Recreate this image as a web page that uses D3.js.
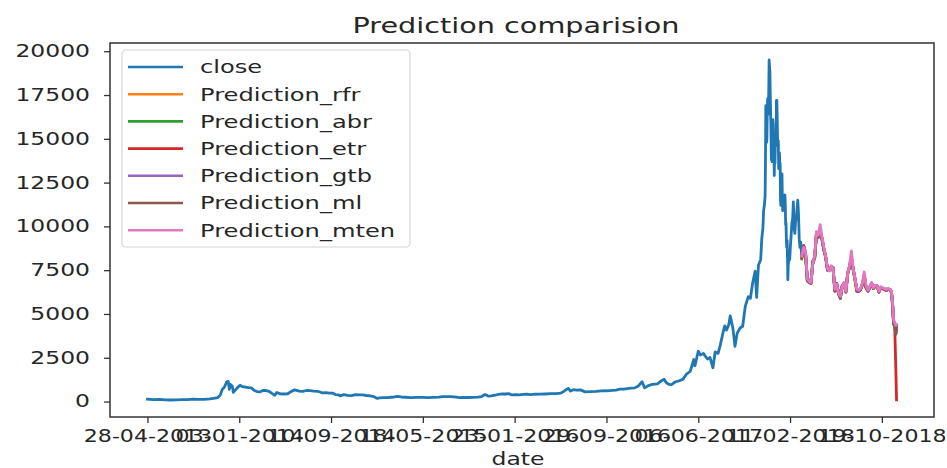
<!DOCTYPE html>
<html><head><meta charset="utf-8">
<script src="https://cdn.jsdelivr.net/npm/d3@7"></script>
<style>
html,body{margin:0;padding:0;background:#fff;}
svg{display:block;font-family:"DejaVu Sans",sans-serif;}
</style></head>
<body><svg id="chart" width="947" height="468"></svg>
<script>
// ---------------- data ----------------
const chartTitle = "Prediction comparision";
const xAxisLabel = "date";
const startDate = "2013-04-28";
const xTickIndex = [0, 250, 500, 750, 1000, 1250, 1500, 1750, 2000];
const xTickLabels = ["28-04-2013","03-01-2014","10-09-2014","18-05-2015","23-01-2016","29-09-2016","06-06-2017","11-02-2018","19-10-2018"];
const yTickValues = [0, 2500, 5000, 7500, 10000, 12500, 15000, 17500, 20000];
const seriesNames = ["close","Prediction_rfr","Prediction_abr","Prediction_etr","Prediction_gtb","Prediction_ml","Prediction_mten"];
const seriesColors = ["#1f77b4","#ff7f0e","#2ca02c","#d62728","#9467bd","#8c564b","#e377c2"];

// close price, training period [date, value]
const closeTrain = [
 ["2013-04-28",135],["2013-05-15",115],["2013-06-01",129],["2013-06-15",100],["2013-07-01",88],["2013-07-15",98],
 ["2013-08-01",105],["2013-08-15",110],["2013-09-01",140],["2013-09-15",128],["2013-10-01",125],["2013-10-15",150],
 ["2013-10-25",185],["2013-11-05",225],["2013-11-12",355],["2013-11-18",700],["2013-11-23",800],["2013-11-30",1130],
 ["2013-12-04",1150],["2013-12-07",700],["2013-12-10",980],["2013-12-15",870],["2013-12-18",520],["2013-12-22",620],
 ["2013-12-27",740],
 ["2014-01-05",930],["2014-01-12",850],["2014-01-20",830],["2014-01-28",800],["2014-02-05",780],["2014-02-12",650],
 ["2014-02-20",570],["2014-02-28",550],["2014-03-08",630],["2014-03-15",635],["2014-03-25",585],["2014-04-01",480],
 ["2014-04-10",360],["2014-04-15",520],["2014-04-25",440],["2014-05-05",430],["2014-05-15",445],["2014-05-25",580],
 ["2014-06-03",665],["2014-06-15",590],["2014-06-25",580],["2014-07-05",630],["2014-07-15",620],["2014-07-25",600],
 ["2014-08-05",585],["2014-08-18",490],["2014-08-28",510],["2014-09-05",480],["2014-09-15",475],["2014-09-22",400],
 ["2014-10-01",385],["2014-10-05",320],["2014-10-15",395],["2014-10-25",355],["2014-11-05",340],["2014-11-15",395],
 ["2014-11-25",375],["2014-12-05",375],["2014-12-15",345],["2014-12-25",320],
 ["2015-01-05",275],["2015-01-14",180],["2015-01-20",212],["2015-01-30",225],["2015-02-10",220],["2015-02-20",245],
 ["2015-03-01",260],["2015-03-10",290],["2015-03-20",260],["2015-04-01",245],["2015-04-15",220],["2015-05-01",235],
 ["2015-05-15",238],["2015-06-01",223],["2015-06-15",236],["2015-07-01",258],["2015-07-10",285],["2015-07-20",278],
 ["2015-08-01",282],["2015-08-18",255],["2015-08-25",220],["2015-09-05",240],["2015-09-20",230],["2015-10-01",237],
 ["2015-10-15",255],["2015-10-25",285],["2015-11-03",400],["2015-11-07",375],["2015-11-12",305],["2015-11-20",325],
 ["2015-12-01",360],["2015-12-10",415],["2015-12-20",440],["2015-12-31",430],
 ["2016-01-08",450],["2016-01-15",375],["2016-01-25",395],["2016-02-05",385],["2016-02-15",405],["2016-02-25",425],
 ["2016-03-05",395],["2016-03-15",415],["2016-04-01",418],["2016-04-15",430],["2016-05-01",450],["2016-05-15",455],
 ["2016-05-27",475],["2016-06-05",580],["2016-06-12",690],["2016-06-17",755],["2016-06-23",600],["2016-07-01",675],
 ["2016-07-10",650],["2016-07-20",665],["2016-08-02",550],["2016-08-15",570],["2016-09-01",575],["2016-09-15",610],
 ["2016-10-01",615],["2016-10-15",640],["2016-10-25",655],["2016-11-05",705],["2016-11-15",710],["2016-11-25",740],
 ["2016-12-05",765],["2016-12-15",780],["2016-12-25",890],
 ["2017-01-04",1130],["2017-01-11",780],["2017-01-20",895],["2017-02-01",985],["2017-02-15",1010],["2017-02-25",1175],
 ["2017-03-05",1270],["2017-03-10",1100],["2017-03-18",975],["2017-03-25",965],["2017-04-05",1130],["2017-04-15",1185],
 ["2017-04-25",1265],["2017-05-05",1570],["2017-05-15",1720],["2017-05-25",2400],["2017-05-28",2050],["2017-06-06",2870],
 ["2017-06-12",2650],["2017-06-20",2750],["2017-06-25",2590],["2017-07-01",2430],["2017-07-08",2510],["2017-07-16",1930],
 ["2017-07-22",2830],["2017-07-30",2750],["2017-08-05",3220],["2017-08-12",3900],["2017-08-17",4320],["2017-08-22",4080],
 ["2017-08-28",4380],["2017-09-01",4890],["2017-09-08",4230],["2017-09-14",3150],["2017-09-20",3900],["2017-09-28",4200],
 ["2017-10-05",4300],["2017-10-12",5430],["2017-10-20",5980],["2017-10-26",5900],["2017-11-01",6750],["2017-11-08",7450],
 ["2017-11-12",5950],["2017-11-17",7800],["2017-11-23",8100],["2017-11-26",9300],["2017-11-29",9900],["2017-12-01",10900],
 ["2017-12-03",11200],["2017-12-05",11700],["2017-12-06",13500],["2017-12-07",16900],["2017-12-08",16100],["2017-12-09",14800],
 ["2017-12-10",15000],["2017-12-11",16700],["2017-12-12",17300],["2017-12-13",16400],["2017-12-14",16600],["2017-12-15",17700],
 ["2017-12-16",19500],["2017-12-17",19100],["2017-12-18",18900],["2017-12-19",17700],["2017-12-20",16600],["2017-12-21",15600],
 ["2017-12-22",13800],["2017-12-23",14200],["2017-12-24",13700],["2017-12-25",13900],["2017-12-26",16100],["2017-12-27",15800],
 ["2017-12-28",14600],["2017-12-29",14700],["2017-12-30",12900],["2017-12-31",14200],
 ["2018-01-01",13600],["2018-01-02",14800],["2018-01-03",15100],["2018-01-04",15200],["2018-01-05",17200],["2018-01-06",17200],
 ["2018-01-07",16200],["2018-01-08",15000],["2018-01-09",14600],["2018-01-10",14900],["2018-01-11",13300],["2018-01-12",13800],
 ["2018-01-13",14200],["2018-01-14",13600],["2018-01-15",13600],["2018-01-16",11500],["2018-01-17",11200],["2018-01-18",11500],
 ["2018-01-19",11800],["2018-01-20",13000],["2018-01-21",11600],["2018-01-22",10900],["2018-01-23",11000],["2018-01-24",11500],
 ["2018-01-25",11300],["2018-01-26",11100],["2018-01-27",11500],["2018-01-28",11800],["2018-01-29",11300],["2018-01-30",10100],
 ["2018-01-31",10200],["2018-02-01",9200],["2018-02-02",8800],["2018-02-03",9200],["2018-02-04",8200],["2018-02-05",6950],
 ["2018-02-06",7750],["2018-02-08",8250],["2018-02-10",8100],["2018-02-12",8900],["2018-02-14",9500],["2018-02-16",10200],
 ["2018-02-18",10400],["2018-02-20",11400],["2018-02-22",9900],["2018-02-24",9600],["2018-02-26",10300],["2018-02-28",10400],
 ["2018-03-02",11000],["2018-03-04",11500],["2018-03-06",10700],["2018-03-08",9300],["2018-03-10",8800],["2018-03-12",9100]
];

// test period
const testDates = ["2018-03-15","2018-03-20","2018-03-25","2018-03-30","2018-04-04","2018-04-09","2018-04-14","2018-04-19",
 "2018-04-24","2018-04-29","2018-05-04","2018-05-09","2018-05-14","2018-05-19","2018-05-24","2018-05-29","2018-06-03",
 "2018-06-08","2018-06-13","2018-06-18","2018-06-23","2018-06-28","2018-07-03","2018-07-08","2018-07-13","2018-07-18",
 "2018-07-23","2018-07-28","2018-08-02","2018-08-07","2018-08-12","2018-08-17","2018-08-22","2018-08-27","2018-09-01",
 "2018-09-06","2018-09-11","2018-09-16","2018-09-21","2018-09-26","2018-10-01","2018-10-06","2018-10-11","2018-10-16",
 "2018-10-21","2018-10-26","2018-10-31","2018-11-05","2018-11-10","2018-11-14","2018-11-17","2018-11-20","2018-11-23",
 "2018-11-26","2018-11-28"];
const closeTest = [8250,8900,8500,6900,6800,6750,8000,8200,9650,9400,9700,9300,8700,8250,7500,7500,7700,7650,6300,6750,6150,5900,
 6600,6750,6250,7350,7700,8200,7550,6950,6300,6300,6400,6700,7200,6500,6300,6500,6750,6450,6600,6600,6250,6500,6450,6400,6350,
 6400,6400,6250,5600,4450,4300,3850,4200];
const predRfr = [8200,8850,8550,6950,6850,6800,7950,8250,9600,9450,9750,9350,8700,8300,7550,7500,7700,7600,6350,6700,6200,5950,
 6600,6700,6300,7300,7700,8300,7550,7000,6350,6300,6400,6700,7250,6500,6300,6500,6750,6450,6600,6600,6300,6500,6450,6400,6350,
 6400,6400,6250,5650,4500,4350,3900,4250];
const predAbr = [8150,8700,8450,7100,6900,6850,7850,8150,9500,9350,9600,9250,8650,8250,7600,7550,7700,7600,6450,6700,6250,6050,
 6550,6700,6350,7250,7650,8150,7500,7000,6400,6350,6450,6650,7150,6550,6350,6500,6700,6500,6600,6550,6350,6500,6450,6450,6400,
 6450,6400,6300,5750,4600,4450,4000,4300];
const predEtr = [8250,8900,8500,6900,6800,6750,8000,8200,9650,9400,9700,9300,8700,8250,7500,7500,7700,7650,6300,6750,6150,5900,
 6600,6750,6250,7350,7700,8200,7550,6950,6300,6300,6400,6700,7200,6500,6300,6500,6750,6450,6600,6600,6250,6500,6450,6400,6350,
 6400,6400,6250,5600,4450,4300,1900,100];
const predGtb = [8300,8850,8500,6950,6800,6800,7950,8200,9600,9400,9650,9300,8700,8250,7500,7500,7700,7650,6350,6700,6200,5950,
 6600,6700,6300,7300,7700,8250,7550,6950,6350,6300,6400,6700,7200,6500,6300,6500,6700,6450,6600,6600,6250,6500,6450,6400,6350,
 6400,6400,6250,5600,4500,4300,3900,4200];
const predMl = [8250,8850,8500,6900,6800,6750,8000,8200,9650,9400,9700,9300,8700,8250,7500,7500,7700,7650,6300,6750,6150,5900,
 6600,6750,6250,7350,7700,8200,7550,6950,6300,6300,6400,6700,7200,6500,6300,6500,6750,6450,6600,6600,6250,6500,6450,6400,6350,
 6400,6400,6250,5600,4450,4300,3850,4200];
const predMten = [8300,8800,8600,7000,6850,6800,7900,8300,9700,9500,10100,9400,8800,8300,7600,7450,7750,7600,6400,6700,6200,6000,
 6550,6800,6300,7300,7800,8600,7600,7000,6400,6350,6450,6750,7400,6600,6350,6550,6800,6500,6650,6600,6300,6550,6500,6450,6400,
 6450,6400,6300,5700,4700,4500,4350,4400];

// ---------------- build ----------------
const parse = d3.timeParse("%Y-%m-%d");
const t0 = parse(startDate);
const dayIdx = s => d3.timeDay.count(t0, parse(s));

const closeSeries = closeTrain.map(d => ({i: dayIdx(d[0]), v: d[1]}))
  .concat(testDates.map((d, k) => ({i: dayIdx(d), v: closeTest[k]})));
const predArrays = [predRfr, predAbr, predEtr, predGtb, predMl, predMten];
const allSeries = [closeSeries].concat(predArrays.map(arr => testDates.map((d, k) => ({i: dayIdx(d), v: arr[k]}))));

const svg = d3.select("#chart");
const M = {left: 110, right: 934, top: 43, bottom: 417};
const SX = 1.38;   // horizontal text stretch of the reference
const SXX = 1.3;   // x tick labels

const allPts = allSeries.flat();
const xe = d3.extent(allPts, d => d.i), ye = d3.extent(allPts, d => d.v);
const xp = (xe[1] - xe[0]) * 0.05, yp = (ye[1] - ye[0]) * 0.05;
const x = d3.scaleLinear().domain([xe[0] - xp, xe[1] + xp]).range([M.left, M.right]);
const y = d3.scaleLinear().domain([ye[0] - yp, ye[1] + yp]).range([M.bottom, M.top]);

svg.append("defs").append("clipPath").attr("id", "clip").append("rect")
  .attr("x", M.left).attr("y", M.top).attr("width", M.right - M.left).attr("height", M.bottom - M.top);

const line = d3.line().x(d => x(d.i)).y(d => y(d.v));
const gLines = svg.append("g").attr("clip-path", "url(#clip)");
allSeries.forEach((s, k) => {
  gLines.append("path").datum(s).attr("d", line)
    .attr("fill", "none").attr("stroke", seriesColors[k])
    .attr("stroke-width", 2.8).attr("stroke-linejoin", "round").attr("stroke-linecap", "square");
});

// axes
const yAxis = svg.append("g").attr("transform", `translate(${M.left},0)`)
  .call(d3.axisLeft(y).tickValues(yTickValues).tickSize(6).tickFormat(d3.format("d")));
yAxis.select(".domain").remove();
yAxis.selectAll("line").attr("stroke", "#333").attr("stroke-width", 1.3);
yAxis.selectAll("text").attr("x", -20 / SX).attr("transform", `scale(${SX},1)`)
  .attr("fill", "#262626").style("font-size", "17px").style("font-family", "DejaVu Sans");

const xAxis = svg.append("g").attr("transform", `translate(0,${M.bottom})`)
  .call(d3.axisBottom(x).tickValues(xTickIndex).tickSize(6).tickPadding(7)
    .tickFormat((d, k) => xTickLabels[k]));
xAxis.select(".domain").remove();
xAxis.selectAll("line").attr("stroke", "#333").attr("stroke-width", 1.3);
xAxis.selectAll("text").attr("transform", `scale(${SXX},1)`)
  .attr("fill", "#262626").style("font-size", "17px").style("font-family", "DejaVu Sans");

// frame
svg.append("rect").attr("x", M.left).attr("y", M.top)
  .attr("width", M.right - M.left).attr("height", M.bottom - M.top)
  .attr("fill", "none").attr("stroke", "#333").attr("stroke-width", 1.5);

// title & label
function stretchedText(px, py, txt, size, sx) {
  svg.append("g").attr("transform", `translate(${px},${py}) scale(${sx},1)`)
    .append("text").attr("text-anchor", "middle").attr("fill", "#262626")
    .style("font-size", size + "px").text(txt);
}
stretchedText((M.left + M.right) / 2 - 6, 33, chartTitle, 20.5, 1.4);
stretchedText((M.left + M.right) / 2 - 4, 465, xAxisLabel, 17, SX);

// legend
const lg = svg.append("g");
lg.append("rect").attr("x", 122).attr("y", 50).attr("width", 288).attr("height", 197).attr("rx", 4)
  .attr("fill", "#fff").attr("fill-opacity", 0.8).attr("stroke", "#d4d4d4").attr("stroke-width", 1.2);
seriesNames.forEach((n, k) => {
  const cy = 67 + k * 27.2;
  lg.append("line").attr("x1", 128).attr("x2", 183).attr("y1", cy).attr("y2", cy)
    .attr("stroke", seriesColors[k]).attr("stroke-width", 2.6);
  lg.append("g").attr("transform", `translate(200,${cy}) scale(${SX},1)`)
    .append("text").attr("dy", "0.36em").attr("fill", "#262626").style("font-size", "17.5px").text(n);
});
</script></body></html>
